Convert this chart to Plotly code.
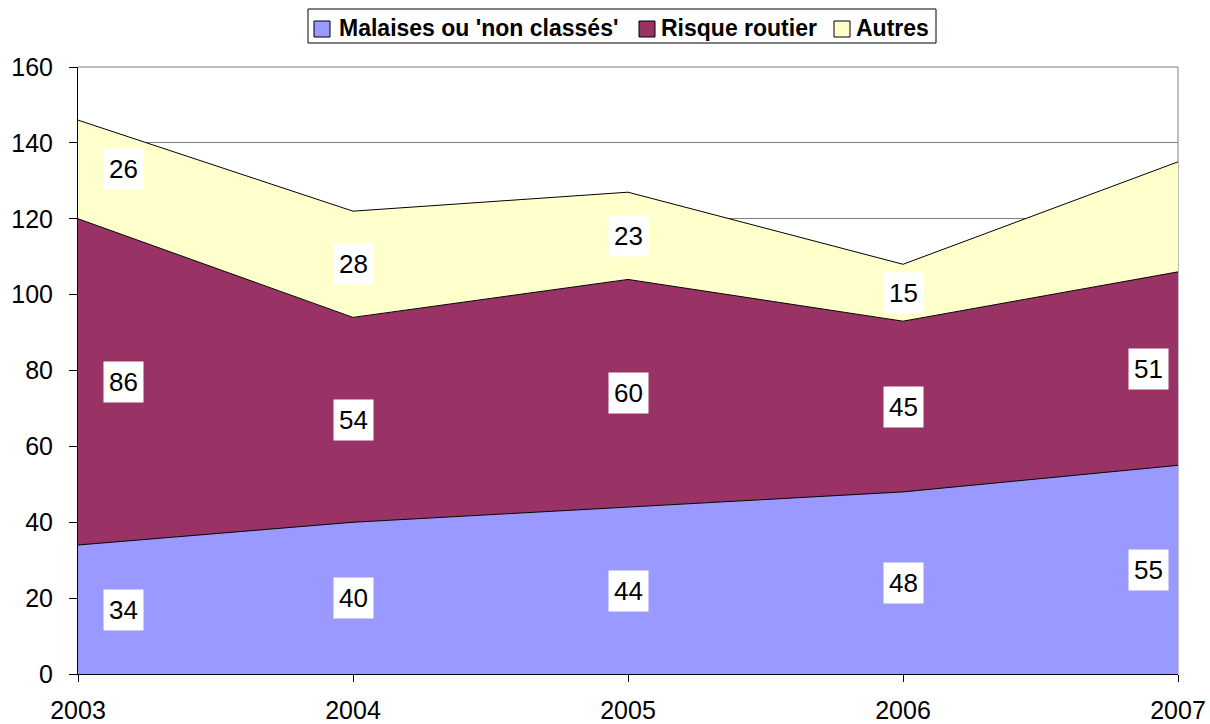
import plotly.graph_objects as go

years = [2003, 2004, 2005, 2006, 2007]
malaises = [34, 40, 44, 48, 55]
risque = [86, 54, 60, 45, 51]
autres = [26, 28, 23, 15, 29]
series_names = ["Malaises ou 'non classés'", "Risque routier", "Autres"]
fill_colors = ["#9999FF", "#993366", "#FFFFCC"]
# which labels are displayed (Autres 2007 not labelled in the reference)
show_label = [[True] * 5, [True] * 5, [True, True, True, True, False]]
label_xshift = [45, 0, 0, 0, -30]
y_ticks = [0, 20, 40, 60, 80, 100, 120, 140, 160]

FONT = "Liberation Sans, Arial, sans-serif"
W, H = 1210, 724
ML, MR, MT, MB = 78, 32, 67, 50
PW, PH = W - ML - MR, H - MT - MB


def px_to_paper_x(px):
    return (px - ML) / PW


def px_to_paper_y(py):
    return (H - MB - py) / PH


fig = go.Figure()
all_series = [malaises, risque, autres]
for name, vals, col in zip(series_names, all_series, fill_colors):
    fig.add_trace(go.Scatter(
        x=years, y=vals, name=name, mode="lines",
        stackgroup="one", fillcolor=col,
        line=dict(color="black", width=1),
        hoverinfo="x+y+name", showlegend=False,
    ))

# data labels at the middle of each band
base = [0] * len(years)
for si, vals in enumerate(all_series):
    for i, (x, v) in enumerate(zip(years, vals)):
        if show_label[si][i]:
            fig.add_annotation(
                x=x, y=base[i] + v / 2, text=str(v), showarrow=False,
                xshift=label_xshift[i],
                font=dict(family=FONT, size=26, color="black"),
                bgcolor="white", borderpad=5,
            )
    base = [b + v for b, v in zip(base, vals)]

# custom legend (box, colour squares, bold labels)
fig.add_shape(type="rect", xref="paper", yref="paper",
              x0=px_to_paper_x(308), x1=px_to_paper_x(936),
              y0=px_to_paper_y(43), y1=px_to_paper_y(9),
              line=dict(color="black", width=1), fillcolor="white")
legend_sq_x = [314, 639, 834]
legend_txt_x = [337, 659, 854]
for name, col, sx, tx in zip(series_names, fill_colors, legend_sq_x, legend_txt_x):
    fig.add_shape(type="rect", xref="paper", yref="paper",
                  x0=px_to_paper_x(sx), x1=px_to_paper_x(sx + 16),
                  y0=px_to_paper_y(37), y1=px_to_paper_y(21),
                  line=dict(color="black", width=1), fillcolor=col)
    fig.add_annotation(xref="paper", yref="paper", x=px_to_paper_x(tx),
                       y=px_to_paper_y(28), xanchor="left", yanchor="middle",
                       text="<b>" + name + "</b>", showarrow=False,
                       font=dict(family=FONT, size=23, color="black"))

fig.update_layout(
    width=W, height=H,
    margin=dict(l=ML, r=MR, t=MT, b=MB, autoexpand=False),
    plot_bgcolor="white", paper_bgcolor="white",
    font=dict(family=FONT, size=25, color="black"),
    showlegend=False,
    xaxis=dict(
        range=[2003, 2007], tickvals=years, ticktext=[str(y) for y in years],
        showgrid=False, showline=True, linecolor="black", linewidth=1,
        ticks="outside", ticklen=7, tickcolor="black",
        zeroline=False, tickfont=dict(size=25), automargin=False,
        ticklabelstandoff=7,
    ),
    yaxis=dict(
        range=[0, 160], tickvals=y_ticks,
        showgrid=True, gridcolor="#808080", gridwidth=1,
        showline=True, linecolor="black", linewidth=1,
        ticks="outside", ticklen=8, tickcolor="black",
        zeroline=False, tickfont=dict(size=25), automargin=False,
        ticklabelstandoff=11,
    ),
)
# gray right and top border of plot area
fig.add_shape(type="line", xref="paper", yref="paper", x0=1, x1=1, y0=0, y1=1,
              line=dict(color="#808080", width=1), layer="below")
fig.add_shape(type="line", xref="paper", yref="paper", x0=0, x1=1, y0=1, y1=1,
              line=dict(color="#808080", width=1), layer="below")

fig.write_html(
    "out.html",
    config={"displayModeBar": False},
    post_script="document.body.style.margin='0';document.body.style.overflow='hidden';",
)
